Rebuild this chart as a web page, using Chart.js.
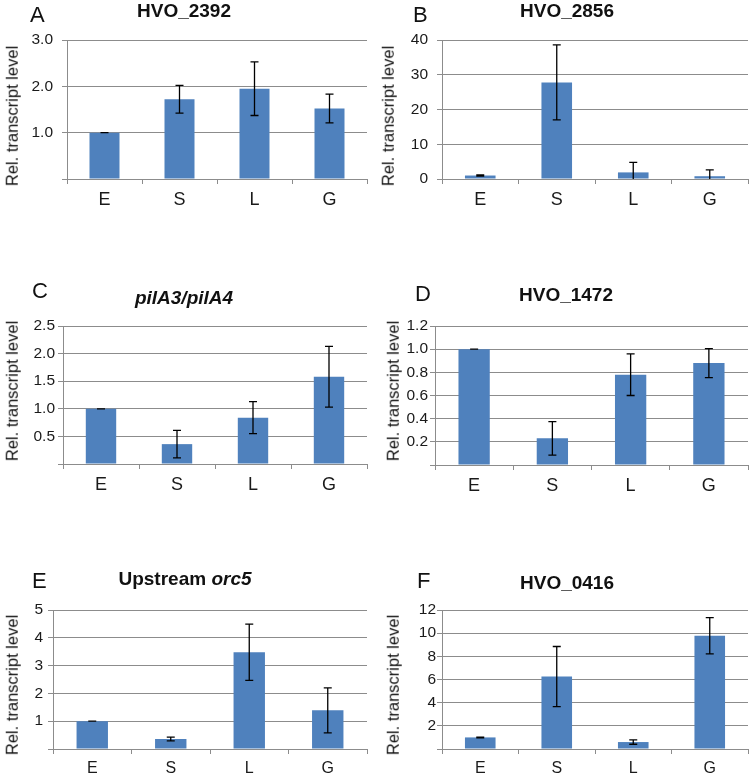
<!DOCTYPE html>
<html>
<head>
<meta charset="utf-8">
<script src="https://cdn.jsdelivr.net/npm/chart.js@4.4.1/dist/chart.umd.min.js"></script>
<style>
  html, body { margin: 0; padding: 0; background: #ffffff; }
  body { width: 750px; height: 776px; position: relative; overflow: hidden; font-family: "Liberation Sans", Arial, sans-serif; color: #111; }
  .panel { position: absolute; }
  .panel canvas { position: absolute; left: 0; top: 0; }
  .txt { position: absolute; white-space: nowrap; line-height: 1; }
  .letter { font-size: 22px; }
  .title { font-size: 19px; font-weight: bold; transform: translateX(-50%); }
  .ytitle { font-size: 16.5px; transform: translate(-50%, -50%) rotate(-90deg); }
</style>
</head>
<body>
<script>
// ---- data ----
const categories = ["E", "S", "L", "G"];

const titleA = "HVO_2392";
const valuesA = [1.00, 1.72, 1.95, 1.52];
const errorsA = [0.00, 0.30, 0.58, 0.31];
const ticksA = [0, 1.0, 2.0, 3.0];

const titleB = "HVO_2856";
const valuesB = [1.0, 27.8, 1.9, 0.8];
const errorsB = [0.2, 10.8, 2.9, 1.8];
const ticksB = [0, 10, 20, 30, 40];

const titleC = "<i>pilA3/pilA4</i>";
const valuesC = [1.00, 0.36, 0.84, 1.58];
const errorsC = [0.00, 0.25, 0.29, 0.55];
const ticksC = [0, 0.5, 1.0, 1.5, 2.0, 2.5];

const titleD = "HVO_1472";
const valuesD = [1.00, 0.23, 0.78, 0.88];
const errorsD = [0.00, 0.145, 0.18, 0.125];
const ticksD = [0, 0.2, 0.4, 0.6, 0.8, 1.0, 1.2];

const titleE = "Upstream <i>orc5</i>";
const valuesE = [1.00, 0.36, 3.48, 1.39];
const errorsE = [0.00, 0.07, 1.01, 0.81];
const ticksE = [0, 1, 2, 3, 4, 5];

const titleF = "HVO_0416";
const valuesF = [1.00, 6.25, 0.60, 9.78];
const errorsF = [0.03, 2.60, 0.19, 1.57];
const ticksF = [0, 2, 4, 6, 8, 10, 12];

const yLabel = "Rel. transcript level";

// ---- layout (positions/sizes) ----
const panels = [
  { id: "A", title: titleA, values: valuesA, errors: errorsA, ticks: ticksA, dec: 1, showZero: false, xFont: 18, yPad: 9,
    left: 0, top: 0, w: 375, h: 225, area: { l: 67, t: 40, r: 367, b: 179 },
    letterPos: [30, 4], titlePos: [184, 1], yTitle: [12, 116] },
  { id: "B", title: titleB, values: valuesB, errors: errorsB, ticks: ticksB, dec: 0, showZero: true, xFont: 18, yPad: 9,
    left: 375, top: 0, w: 375, h: 225, area: { l: 67, t: 40, r: 373, b: 179 },
    letterPos: [38, 4], titlePos: [192, 1], yTitle: [13, 116] },
  { id: "C", title: titleC, values: valuesC, errors: errorsC, ticks: ticksC, dec: 1, showZero: false, xFont: 18, yPad: 3,
    left: 0, top: 250, w: 375, h: 260, area: { l: 63, t: 76, r: 367, b: 214 },
    letterPos: [32, 30], titlePos: [184, 38], yTitle: [12, 141] },
  { id: "D", title: titleD, values: valuesD, errors: errorsD, ticks: ticksD, dec: 1, showZero: false, xFont: 18, yPad: 2,
    left: 375, top: 250, w: 375, h: 260, area: { l: 60, t: 76, r: 373, b: 215 },
    letterPos: [40, 33], titlePos: [191, 35], yTitle: [18, 141] },
  { id: "E", title: titleE, values: valuesE, errors: errorsE, ticks: ticksE, dec: 0, showZero: false, xFont: 16, yPad: 5,
    left: 0, top: 530, w: 375, h: 246, area: { l: 53, t: 80, r: 367, b: 219 },
    letterPos: [32, 40], titlePos: [185, 39], yTitle: [12, 155] },
  { id: "F", title: titleF, values: valuesF, errors: errorsF, ticks: ticksF, dec: 0, showZero: false, xFont: 16, yPad: 1,
    left: 375, top: 530, w: 375, h: 246, area: { l: 67, t: 80, r: 373, b: 219 },
    letterPos: [42, 40], titlePos: [192, 43], yTitle: [18, 155] }
];

const barColor = "#4F81BD";
const gridColor = "#8c8c8c";
const textColor = "#1a1a1a";

const errorBarPlugin = {
  id: "errorBars",
  afterDatasetsDraw(chart, args, opts) {
    const ctx = chart.ctx;
    const y = chart.scales.y;
    const meta = chart.getDatasetMeta(0);
    const errs = opts.errors || [];
    ctx.save();
    ctx.strokeStyle = "#000";
    ctx.lineWidth = 1.3;
    meta.data.forEach((bar, i) => {
      const v = chart.data.datasets[0].data[i];
      const e = errs[i] || 0;
      const hi = Math.min(v + e, y.max);
      const lo = Math.max(v - e, y.min);
      const yh = y.getPixelForValue(hi);
      const yl = y.getPixelForValue(lo);
      const x = bar.x;
      const cw = 4;
      ctx.beginPath();
      ctx.moveTo(x, yh); ctx.lineTo(x, yl);
      ctx.moveTo(x - cw, yh); ctx.lineTo(x + cw, yh);
      if (lo > y.min) { ctx.moveTo(x - cw, yl); ctx.lineTo(x + cw, yl); }
      ctx.stroke();
    });
    ctx.restore();
  }
};

panels.forEach(p => {
  const div = document.createElement("div");
  div.className = "panel";
  div.style.left = p.left + "px";
  div.style.top = p.top + "px";
  div.style.width = p.w + "px";
  div.style.height = p.h + "px";
  document.body.appendChild(div);

  const canvas = document.createElement("canvas");
  canvas.width = p.w; canvas.height = p.h;
  canvas.style.width = p.w + "px"; canvas.style.height = p.h + "px";
  div.appendChild(canvas);

  const letter = document.createElement("div");
  letter.className = "txt letter";
  letter.textContent = p.id;
  letter.style.left = p.letterPos[0] + "px";
  letter.style.top = p.letterPos[1] + "px";
  div.appendChild(letter);

  const title = document.createElement("div");
  title.className = "txt title";
  title.innerHTML = p.title;
  title.style.left = p.titlePos[0] + "px";
  title.style.top = p.titlePos[1] + "px";
  div.appendChild(title);

  const yt = document.createElement("div");
  yt.className = "txt ytitle";
  yt.textContent = yLabel;
  yt.style.left = p.yTitle[0] + "px";
  yt.style.top = p.yTitle[1] + "px";
  div.appendChild(yt);

  const tmin = p.ticks[0], tmax = p.ticks[p.ticks.length - 1];
  const step = p.ticks[1] - p.ticks[0];

  new Chart(canvas, {
    type: "bar",
    data: {
      labels: categories,
      datasets: [{ data: p.values, backgroundColor: barColor, borderWidth: 0,
                   categoryPercentage: 1.0, barPercentage: 0.4 }]
    },
    plugins: [errorBarPlugin],
    options: {
      responsive: false,
      animation: false,
      devicePixelRatio: 1,
      layout: { padding: { left: 0, top: p.area.t, right: p.w - p.area.r, bottom: 0 } },
      plugins: { legend: { display: false }, tooltip: { enabled: false }, title: { display: false },
                 errorBars: { errors: p.errors } },
      scales: {
        x: {
          offset: true,
          grid: { offset: true, drawOnChartArea: false, drawTicks: true, tickLength: 5, color: gridColor, lineWidth: 1 },
          border: { color: gridColor, width: 1 },
          ticks: { color: textColor, font: { family: "Liberation Sans", size: p.xFont }, padding: 5, maxRotation: 0 },
          afterFit(s) { s.height = p.h - p.area.b; }
        },
        y: {
          min: tmin, max: tmax,
          grid: { color: gridColor, lineWidth: 1, tickLength: 5, drawTicks: true },
          border: { color: gridColor, width: 1 },
          ticks: {
            stepSize: step,
            color: textColor,
            font: { family: "Liberation Sans", size: 15.5 },
            padding: p.yPad,
            callback: (v) => (v === 0 && !p.showZero) ? "" : Number(v).toFixed(p.dec)
          },
          afterFit(s) { s.width = p.area.l; }
        }
      }
    }
  });
});
</script>
</body>
</html>
